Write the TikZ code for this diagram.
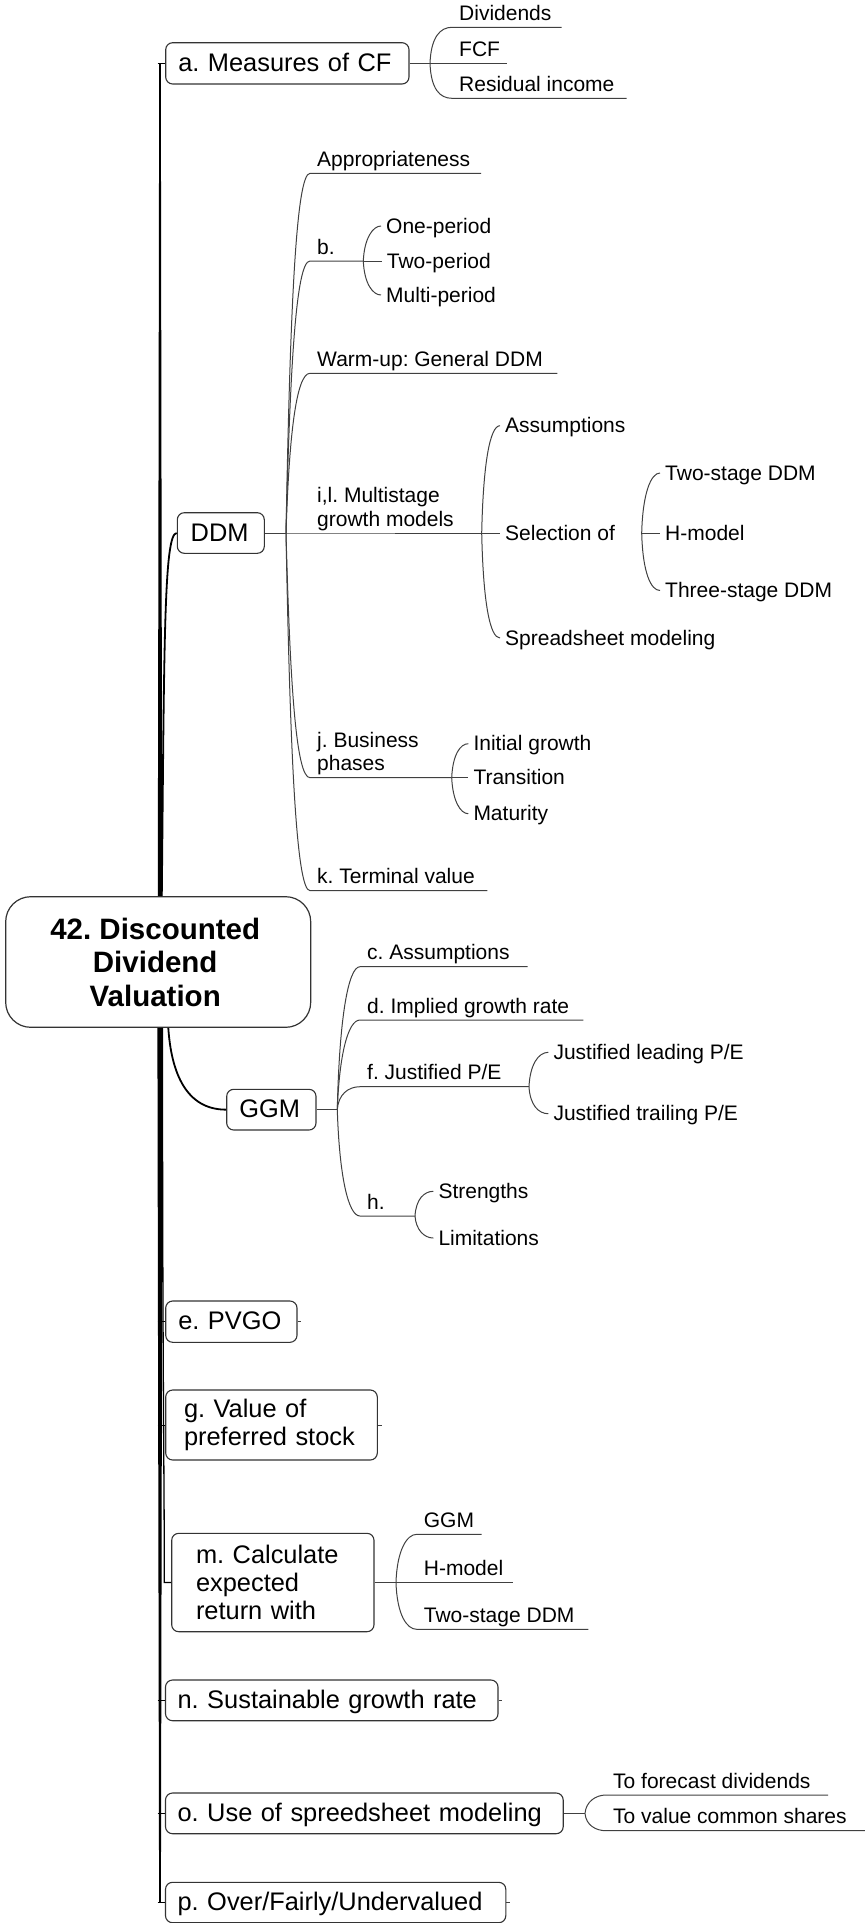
\documentclass[tikz,border=0pt]{standalone}
\usepackage{fontspec}
\setmainfont{Liberation Sans}
\usetikzlibrary{calc}
\frenchspacing
% zero-width strut that fixes the depth below the last baseline of an underlined label
\newcommand{\ud}{\rule[-6.8pt]{0pt}{6.8pt}}
\newcommand{\subfont}{\fontsize{21}{23.3}\selectfont}
\newcommand{\rl}{\hspace*{-6pt}}

\tikzset{
  ln/.style={draw=black!75, line width=1pt},
  heavy/.style={draw=black, line width=1.8pt},
  rootbox/.style={draw=black!80, line width=1.2pt, rounded corners=25pt, fill=white,
    minimum width=305pt, minimum height=130.6pt, align=center, inner sep=0pt,
    font=\fontsize{29.5}{33.5}\selectfont\bfseries},
  topic/.style={draw=black!80, line width=1.1pt, rounded corners=7pt, fill=white,
    align=left, inner ysep=0pt, font=\fontsize{25.4}{28.3}\selectfont},
  oneline/.style={text height=18.4pt, text depth=2pt},
  ul/.style={anchor=south west, inner xsep=7pt, inner ysep=0pt, align=left, font=\subfont},
  leaf/.style={anchor=west, inner xsep=5pt, inner ysep=0pt, text height=15pt,
    text depth=1pt, font=\subfont},
}

\begin{document}
\begin{tikzpicture}[x=1pt, y=-1pt]
\useasboundingbox (0,0) rectangle (865,1923);

% ---------- central topic and main topics ----------
\node[rootbox] (root) at (158.2,962) {\rl 42. Discounted\\\rl Dividend\\\rl Valuation};

\node[topic,oneline,text width=218.1pt,inner xsep=12.6pt,minimum height=41.3pt] (a) at (287.35,63.35) {\mbox{a. Measures of CF}};
\node[topic,oneline,text width=60.2pt,inner xsep=13.4pt,minimum height=40.6pt] (ddm) at (220.8,533) {\mbox{DDM}};
\node[topic,oneline,text width=64.1pt,inner xsep=12.6pt,minimum height=40.7pt] (ggm) at (271.35,1109.65) {\mbox{GGM}};
\node[topic,oneline,text width=106.1pt,inner xsep=12.6pt,minimum height=41.3pt] (e) at (231.35,1321.65) {\mbox{e. PVGO}};
\node[topic,text width=175pt,inner xsep=18.3pt,minimum height=70pt] (g) at (271.5,1425) {g. Value of\\preferred stock};
\node[topic,text width=153.7pt,inner xsep=24.3pt,minimum height=98.4pt] (m) at (272.85,1582.5) {m. Calculate\\expected\\return with};
\node[topic,oneline,text width=308.3pt,inner xsep=12.1pt,minimum height=40.7pt] (n) at (331.75,1700.35) {\mbox{n. Sustainable growth rate}};
\node[topic,oneline,text width=373.5pt,inner xsep=12.1pt,minimum height=40.7pt] (o) at (364.35,1813.35) {\mbox{o. Use of spreedsheet modeling}};
\node[topic,oneline,text width=316.1pt,inner xsep=12.1pt,minimum height=40.4pt] (p) at (335.65,1902.5) {\mbox{p. Over/Fairly/Undervalued}};

% ---------- trunk ----------
\coordinate (tx) at (160,0);
\coordinate (tk) at (157.7,0);
\coordinate (td) at (161.8,0);
\coordinate (tg) at (168.3,0);
\coordinate (tm) at (162.5,0);
\coordinate (tm2) at (164.3,0);

% upper trunk, tapering towards a
\fill[black] ($(root.north -| tx)+(-2.2,0)$) -- ($(root.north -| tx)+(2.2,0)$)
  -- ($(a.west -| tx)+(0.8,0)$) -- ($(a.west -| tx)+(-0.8,0)$) -- cycle;
% lower trunk, tapering towards p
\fill[black] ($(root.south -| tx)+(-2.6,0)$) -- ($(root.south -| tx)+(2.6,0)$)
  -- ($(p.west -| tx)+(0.9,0)$) -- ($(p.west -| tx)+(-0.9,0)$) -- cycle;

% ticks from the trunk into the boxes
\foreach \b in {a,e,g,n,o,p}{
  \draw[ln, draw=black] (\b.west -| tk) -- (\b.west);
}
% small stubs on the right of collapsed topics
\foreach \b in {e,g,n,p}{
  \draw[ln] (\b.east) -- ++(3.7,0);
}

% curved branches from the central topic
\draw[heavy] (root.north -| td) .. controls +(2.5,-250) and +(-13,0) .. (ddm.west);
\draw[heavy] (root.south -| tg) .. controls +(3,45) and +(-40,0) .. (ggm.west);
\draw[ln, draw=black, line width=1.3pt] (root.south -| tm) .. controls +(0,350) and +(0,-120) .. (m.west -| tm2) -- (m.west);

% ---------- a. Measures of CF ----------
\coordinate (abr) at (430,63.35);
\node[ul] (div) at (452,27.3) {Dividends\ud};
\node[ul] (fcf) at (452,63.35) {FCF\ud};
\node[ul] (res) at (452,98.3) {Residual income\ud};
\draw[ln] (a.east) -- (abr);
\draw[ln] (abr) .. controls +(1,-26) and +(-12,0) .. (div.south west) -- ++(109.7,0);
\draw[ln] (abr) -- (fcf.south west) -- ++(54.7,0);
\draw[ln] (abr) .. controls +(1,26) and +(-12,0) .. (res.south west) -- ++(174.7,0);

% ---------- DDM ----------
\coordinate (ddmbr) at (286,533);
\coordinate (bbr) at (363.3,261);
\coordinate (selbr) at (481.7,533);
\coordinate (hbr) at (641.7,533);
\coordinate (jbr) at (451.7,777.7);

\node[ul] (app) at (310,173.3) {Appropriateness\ud};
\node[ul] (bb) at (310,261) {b.\ud};
\node[ul] (wu) at (310,373.3) {Warm-up: General DDM\ud};
\node[ul] (il) at (310,533) {i,l. Multistage\\growth models\ud};
\node[ul] (jj) at (310,777.7) {j. Business\\phases\ud};
\node[ul] (kk) at (310,890.7) {k. Terminal value\ud};

\draw[ln] (ddm.east) -- (ddmbr);
\draw[ln] (ddmbr) .. controls +(4,-220) and +(-14,0) .. (app.south west) -- ++(171,0);
\draw[ln] (ddmbr) .. controls +(4,-165) and +(-14,0) .. (bb.south west) -- (bbr);
\draw[ln] (ddmbr) .. controls +(3,-95) and +(-14,0) .. (wu.south west) -- ++(247.3,0);
\draw[ln] (ddmbr) -- (il.south west) -- (selbr);
\draw[ln] (ddmbr) .. controls +(4,150) and +(-14,0) .. (jj.south west) -- (jbr);
\draw[ln] (ddmbr) .. controls +(4,215) and +(-14,0) .. (kk.south west) -- ++(177.3,0);

% b.
\node[leaf] (one) at (381,226) {One-period};
\node[leaf] (two) at (381.7,261) {Two-period};
\node[leaf] (multi) at (381,295) {Multi-period};
\draw[ln] (bbr) .. controls +(1,-23) and +(-8,0) .. (one.west);
\draw[ln] (bbr) -- (two.west);
\draw[ln] (bbr) .. controls +(1,23) and +(-8,0) .. (multi.west);

% i,l. Multistage growth models
\node[leaf] (assum) at (500,425.7) {Assumptions};
\node[leaf] (sel) at (500,533) {Selection of};
\node[leaf] (sprd) at (500,638) {Spreadsheet modeling};
\draw[ln] (selbr) .. controls +(1.5,-70) and +(-10,0) .. (assum.west);
\draw[ln] (selbr) -- (sel.west);
\draw[ln] (selbr) .. controls +(1.5,70) and +(-10,0) .. (sprd.west);

% Selection of
\node[leaf] (twostage) at (660,473) {Two-stage DDM};
\node[leaf] (hmod) at (660,533) {H-model};
\node[leaf] (three) at (660,590.5) {Three-stage DDM};
\draw[ln] (hbr) .. controls +(1,-40) and +(-9,0) .. (twostage.west);
\draw[ln] (hbr) -- (hmod.west);
\draw[ln] (hbr) .. controls +(1,40) and +(-9,0) .. (three.west);

% j. Business phases
\node[leaf] (init) at (468.3,743.7) {Initial growth};
\node[leaf] (trans) at (468.3,777.7) {Transition};
\node[leaf] (matur) at (468.3,813.7) {Maturity};
\draw[ln] (jbr) .. controls +(1,-23) and +(-8,0) .. (init.west);
\draw[ln] (jbr) -- (trans.west);
\draw[ln] (jbr) .. controls +(1,23) and +(-8,0) .. (matur.west);

% ---------- GGM ----------
\coordinate (ggmbr) at (337.3,1109.65);
\coordinate (fbr) at (529,1086.7);
\coordinate (hhbr) at (415,1216);

\node[ul] (cc) at (360,966.7) {c. Assumptions\ud};
\node[ul] (dd) at (360,1020) {d. Implied growth rate\ud};
\node[ul] (ff) at (360,1086.7) {f. Justified P/E\ud};
\node[ul] (hh) at (360,1216) {h.\ud};

\draw[ln] (ggm.east) -- (ggmbr);
\draw[ln] (ggmbr) .. controls +(2,-90) and +(-12,0) .. (cc.south west) -- ++(167.7,0);
\draw[ln] (ggmbr) .. controls +(2,-55) and +(-12,0) .. (dd.south west) -- ++(223.3,0);
\draw[ln] (ggmbr) .. controls +(1,-15) and +(-12,0) .. (ff.south west) -- (fbr);
\draw[ln] (ggmbr) .. controls +(2,65) and +(-12,0) .. (hh.south west) -- (hhbr);

\node[leaf] (jlead) at (548.3,1052.3) {Justified leading P/E};
\node[leaf] (jtrail) at (548.3,1113.7) {Justified trailing P/E};
\draw[ln] (fbr) .. controls +(1,-22) and +(-10,0) .. (jlead.west);
\draw[ln] (fbr) .. controls +(1,18) and +(-10,0) .. (jtrail.west);

\node[leaf] (str) at (433.3,1191.3) {Strengths};
\node[leaf] (lim) at (433.3,1238) {Limitations};
\draw[ln] (hhbr) .. controls +(1,-17) and +(-9,0) .. (str.west);
\draw[ln] (hhbr) .. controls +(1,14) and +(-9,0) .. (lim.west);

% ---------- m. Calculate expected return with ----------
\coordinate (mbr) at (396,1582.5);
\node[ul] (mg) at (416.7,1534.3) {GGM\ud};
\node[ul] (mh) at (416.7,1582.5) {H-model\ud};
\node[ul] (mt) at (416.7,1629.3) {Two-stage DDM\ud};
\draw[ln] (m.east) -- (mbr);
\draw[ln] (mbr) .. controls +(1,-32) and +(-10,0) .. (mg.south west) -- ++(65,0);
\draw[ln] (mbr) -- (mh.south west) -- ++(96.6,0);
\draw[ln] (mbr) .. controls +(1,32) and +(-10,0) .. (mt.south west) -- ++(171.6,0);

% ---------- o. Use of spreedsheet modeling ----------
\coordinate (obr) at (585,1813.35);
\node[ul] (fore) at (606,1795) {To forecast dividends\ud};
\node[ul] (valc) at (606,1830.7) {To value common shares\ud};
\draw[ln] (o.east) -- (obr);
\draw[ln] (obr) .. controls +(1,-12) and +(-10,0) .. (fore.south west) -- ++(222,0);
\draw[ln] (obr) .. controls +(1,12) and +(-10,0) .. (valc.south west) -- ++(259,0);
\end{tikzpicture}
\end{document}
